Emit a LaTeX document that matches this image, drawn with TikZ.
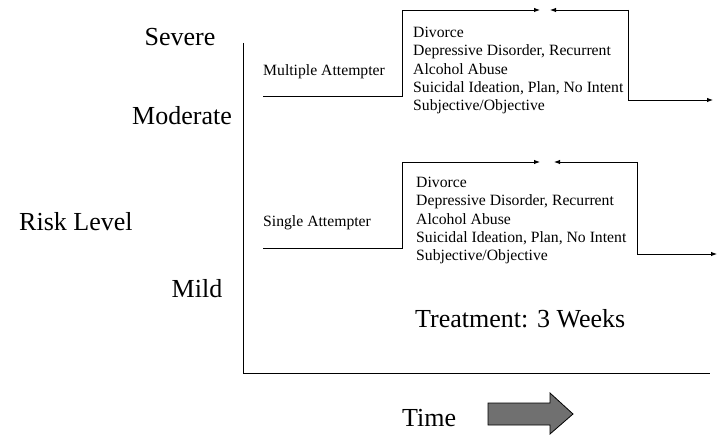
\documentclass[tikz,border=0pt]{standalone}
\usepackage{fontspec}
\setmainfont{Liberation Serif}
\usetikzlibrary{arrows.meta}
\definecolor{arrowgray}{RGB}{112,112,112}
\tikzset{
  big/.style={inner sep=0pt, font=\fontsize{26}{31}\selectfont},
  small/.style={inner sep=0pt, font=\fontsize{15.7}{18.3}\selectfont},
  axis/.style={line width=1pt, black},
  flow/.style={line width=0.9pt, black},
  flowarrow/.style={flow, -{Latex[length=6pt,width=4.5pt]}},
}
\begin{document}
\begin{tikzpicture}[x=1pt,y=-1pt]
\useasboundingbox (0,0) rectangle (719,435);
% axes
\coordinate (axtop) at (243,43);
\coordinate (origin) at (243,373);
\coordinate (axright) at (710,373);
\draw[axis] (axtop) -- (origin) -- (axright);
% level labels
\node[big, anchor=base] (severe) at (180,46) {Severe};
\node[big, anchor=base] (moderate) at (182,125) {Moderate};
\node[big, anchor=base west] (risk) at (19,231) {Risk Level};
\node[big, anchor=base] (mild) at (197,297) {Mild};
% multiple attempter
\node[small, anchor=base west] (multi) at (263,76) {Multiple Attempter};
\coordinate (m0) at (263,96);
\coordinate (m1) at (402,96);
\coordinate (m2) at (402,10);
\coordinate (m3) at (540,10);
\coordinate (m4) at (550,10);
\coordinate (m5) at (628,10);
\coordinate (m6) at (628,100);
\coordinate (m7) at (713,100);
\draw[flowarrow] (m0) -- (m1) -- (m2) -- (m3);
\draw[flowarrow] (m5) -- (m4);
\draw[flowarrow] (m5) -- (m6) -- (m7);
\node[small, anchor=north west, align=left] (mlist) at (413,27)
  {Divorce\\Depressive Disorder, Recurrent\\Alcohol Abuse\\Suicidal Ideation, Plan, No Intent\\Subjective/Objective};
% single attempter
\node[small, anchor=base west] (single) at (263,227) {Single Attempter};
\coordinate (s0) at (263,248);
\coordinate (s1) at (402,248);
\coordinate (s2) at (402,162);
\coordinate (s3) at (540,162);
\coordinate (s4) at (554,162);
\coordinate (s5) at (637,162);
\coordinate (s6) at (637,254);
\coordinate (s7) at (717,254);
\draw[flowarrow] (s0) -- (s1) -- (s2) -- (s3);
\draw[flowarrow] (s5) -- (s4);
\draw[flowarrow] (s5) -- (s6) -- (s7);
\node[small, anchor=north west, align=left] (slist) at (416,177)
  {Divorce\\Depressive Disorder, Recurrent\\Alcohol Abuse\\Suicidal Ideation, Plan, No Intent\\Subjective/Objective};
% treatment
\node[big, anchor=base west] (treat) at (415,327) {Treatment: 3 Weeks};
% time
\node[big, anchor=base west] (time) at (402,426) {Time};
\draw[line width=0.8pt, fill=arrowgray]
  (488,403) -- (550,403) -- (550,393) -- (573,414) -- (550,434) -- (550,425) -- (488,425) -- cycle;
\end{tikzpicture}
\end{document}
